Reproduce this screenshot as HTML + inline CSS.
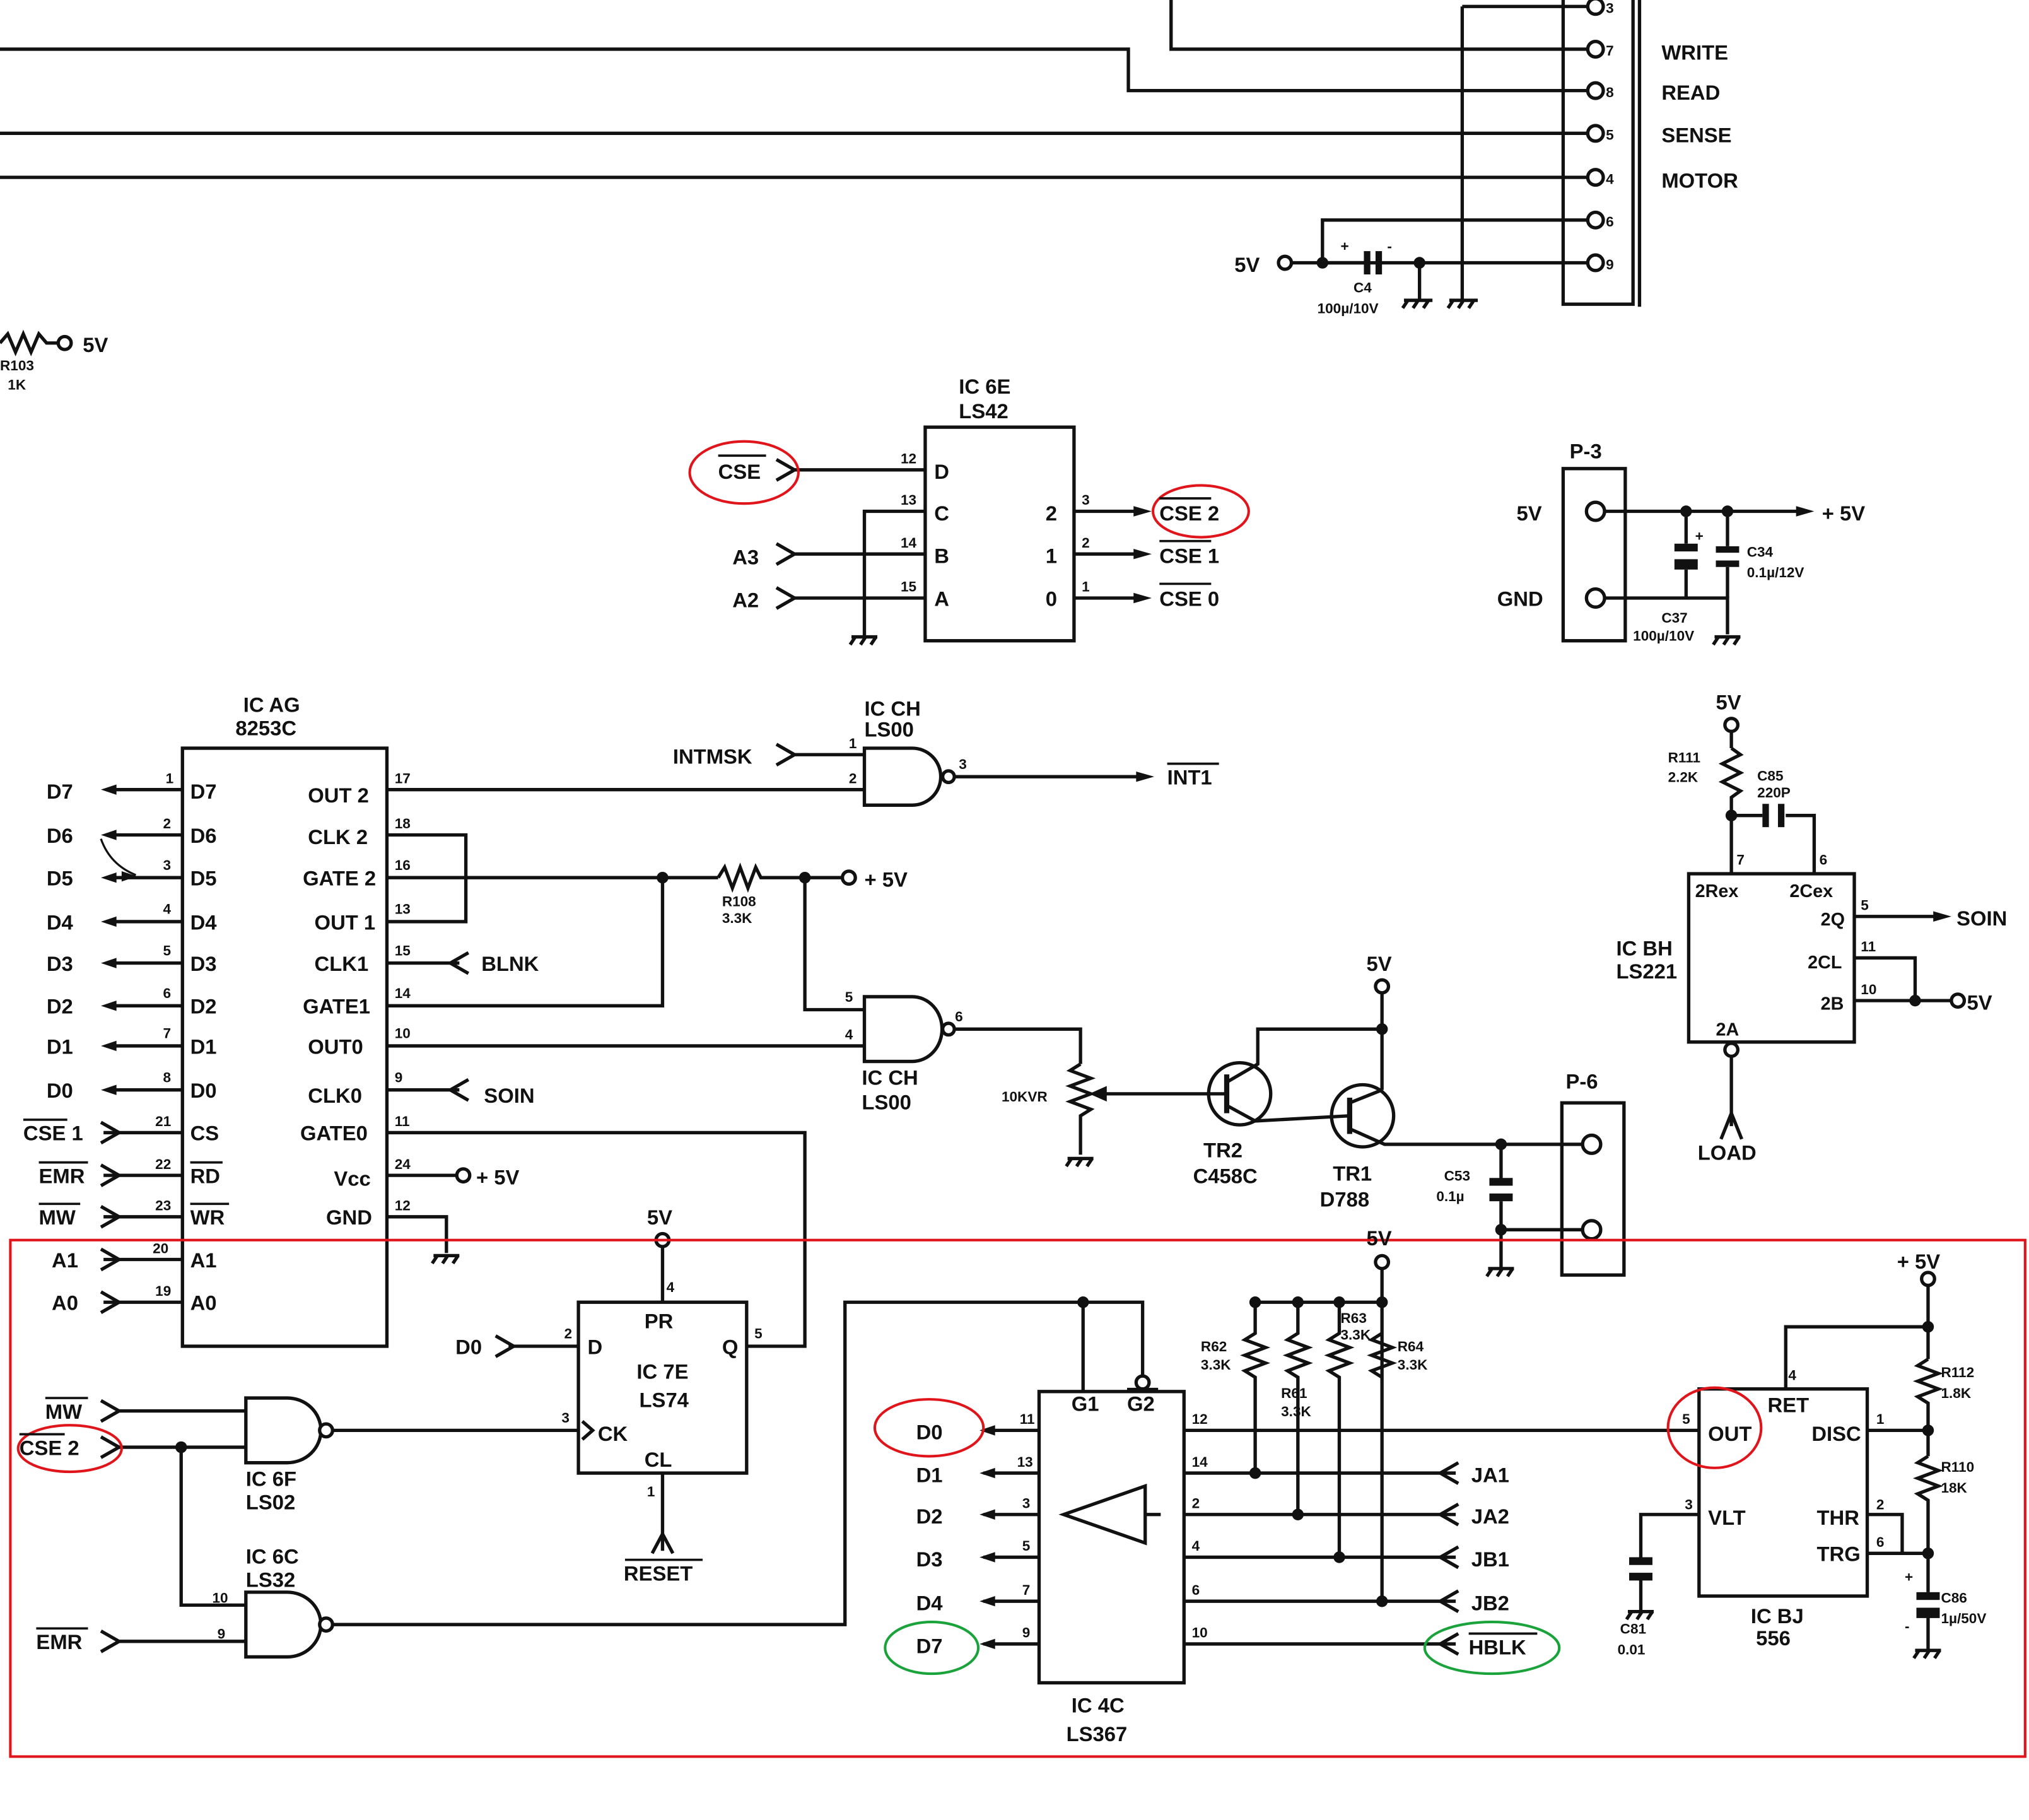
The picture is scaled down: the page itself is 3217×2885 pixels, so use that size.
<!DOCTYPE html>
<html><head><meta charset="utf-8"><style>
html,body{margin:0;padding:0;background:#fff;}
svg{display:block}
text{font-family:"Liberation Sans",sans-serif;font-weight:bold;fill:#111}
</style></head><body>
<svg width="3217" height="2885" viewBox="0 0 1568 1406" preserveAspectRatio="none" xmlns="http://www.w3.org/2000/svg">
<g stroke="#111" stroke-width="2.6" fill="none">
<polyline points="0,38 872,38 872,70 1228,70"/>
<polyline points="905,0 905,38 1228,38"/>
<line x1="0" y1="103" x2="1228" y2="103"/>
<line x1="0" y1="137" x2="1228" y2="137"/>
<line x1="1130" y1="5" x2="1130" y2="232"/>
<line x1="1130" y1="5" x2="1228" y2="5"/>
<rect x="1208" y="-5" width="54" height="240"/>
<line x1="1267" y1="-5" x2="1267" y2="237"/>
<polyline points="998,203 1228,203"/>
<polyline points="1022,203 1022,170 1228,170"/>
<line x1="1097" y1="203" x2="1097" y2="232"/>
<polyline points="0,265 6,258 12,272 18,258 24,272 30,258 36,265 45,265"/>
<rect x="715" y="330" width="115" height="165"/>
<line x1="612" y1="363" x2="715" y2="363"/>
<polyline points="668,492 668,395 715,395"/>
<line x1="612" y1="428" x2="715" y2="428"/>
<line x1="612" y1="462" x2="715" y2="462"/>
<line x1="830" y1="395" x2="885" y2="395"/>
<line x1="830" y1="428" x2="885" y2="428"/>
<line x1="830" y1="462" x2="885" y2="462"/>
<rect x="1208" y="362" width="48" height="133"/>
<line x1="1240" y1="395" x2="1395" y2="395"/>
<polyline points="1240,462 1335,462 1335,490"/>
<line x1="1303" y1="395" x2="1303" y2="420"/><line x1="1303" y1="440" x2="1303" y2="462"/>
<line x1="1335" y1="395" x2="1335" y2="422"/><line x1="1335" y1="438" x2="1335" y2="462"/>
<rect x="141" y="578" width="158" height="462"/>
<line x1="82" y1="610" x2="141" y2="610"/><line x1="82" y1="645" x2="141" y2="645"/>
<line x1="82" y1="678" x2="141" y2="678"/><line x1="82" y1="712" x2="141" y2="712"/>
<line x1="82" y1="744" x2="141" y2="744"/><line x1="82" y1="777" x2="141" y2="777"/>
<line x1="82" y1="808" x2="141" y2="808"/><line x1="82" y1="842" x2="141" y2="842"/>
<line x1="80" y1="875" x2="141" y2="875"/><line x1="80" y1="908" x2="141" y2="908"/>
<line x1="80" y1="940" x2="141" y2="940"/><line x1="80" y1="973" x2="141" y2="973"/>
<line x1="80" y1="1006" x2="141" y2="1006"/>
<path d="M78,648 Q85,668 105,676" stroke-width="1.6"/>
<line x1="299" y1="610" x2="668" y2="610"/>
<polyline points="299,645 360,645 360,712 299,712"/>
<line x1="299" y1="678" x2="555" y2="678"/>
<polyline points="555,678 560,670 566,686 572,670 578,686 584,670 588,678 650,678"/>
<polyline points="512,678 512,777 299,777"/>
<polyline points="622,678 622,780 668,780"/>
<line x1="299" y1="808" x2="668" y2="808"/>
<line x1="299" y1="744" x2="355" y2="744"/>
<line x1="299" y1="842" x2="355" y2="842"/>
<polyline points="299,875 622,875 622,1040 577,1040"/>
<line x1="299" y1="908" x2="354" y2="908"/>
<polyline points="299,940 345,940 345,968"/>
<path d="M668,578 H705 A22,22 0 0 1 705,622 H668 Z"/>
<line x1="612" y1="583" x2="668" y2="583"/>
<line x1="737" y1="600" x2="885" y2="600"/>
<path d="M668,770 H705 A23,25 0 0 1 705,820 H668 Z"/>
<polyline points="737,795 835,795 835,822"/>
<polyline points="835,822 827,827 843,833 827,839 843,845 827,851 843,857 835,862 835,892"/>
<line x1="845" y1="845" x2="935" y2="845"/>
<path d="M845,845 l9,-4 v8 z" fill="#111"/>
<circle cx="958" cy="845" r="24"/>
<line x1="948" y1="830" x2="948" y2="860" stroke-width="4"/>
<line x1="935" y1="845" x2="948" y2="845"/>
<polyline points="948,836 972,822 972,795 1068,795"/>
<polyline points="948,854 970,866"/>
<line x1="1068" y1="768" x2="1068" y2="842"/>
<circle cx="1053" cy="862" r="24"/>
<line x1="1043" y1="848" x2="1043" y2="876" stroke-width="4"/>
<polyline points="970,866 1043,862"/>
<polyline points="1043,852 1068,842"/>
<polyline points="1043,872 1070,884 1222,884"/>
<line x1="1160" y1="884" x2="1160" y2="912"/>
<line x1="1160" y1="928" x2="1160" y2="980"/>
<line x1="1160" y1="950" x2="1222" y2="950"/>
<rect x="1207" y="852" width="48" height="133"/>
<rect x="1305" y="675" width="128" height="130"/>
<line x1="1338" y1="566" x2="1338" y2="578"/>
<polyline points="1338,578 1345,583 1331,590 1345,597 1331,604 1345,611 1338,616 1338,675"/>
<line x1="1338" y1="630" x2="1362" y2="630"/>
<polyline points="1380,630 1402,630 1402,675"/>
<line x1="1433" y1="708" x2="1500" y2="708"/>
<polyline points="1433,740 1480,740 1480,773"/>
<line x1="1433" y1="773" x2="1508" y2="773"/>
<line x1="1338" y1="805" x2="1338" y2="870"/>
<polyline points="1330,880 1338,860 1346,880"/>
<rect x="447" y="1006" width="130" height="132"/>
<line x1="512" y1="962" x2="512" y2="1006"/>
<line x1="393" y1="1040" x2="447" y2="1040"/>
<line x1="252" y1="1105" x2="447" y2="1105"/>
<polyline points="450,1098 458,1105 450,1112"/>
<line x1="512" y1="1138" x2="512" y2="1198"/>
<polyline points="504,1200 512,1185 520,1200"/>
<path d="M190,1080 H222 A26,25 0 0 1 222,1130 H190 Z"/>
<line x1="90" y1="1090" x2="190" y2="1090"/>
<line x1="90" y1="1118" x2="190" y2="1118"/>
<polyline points="140,1118 140,1240 190,1240"/>
<path d="M190,1230 H222 A26,25 0 0 1 222,1280 H190 Z"/>
<line x1="90" y1="1268" x2="190" y2="1268"/>
<polyline points="258,1255 653,1255 653,1006 883,1006 883,1062"/>
<line x1="837" y1="1006" x2="837" y2="1075"/>
<rect x="803" y="1075" width="112" height="225"/>
<polygon points="822,1170 885,1148 885,1192"/>
<line x1="885" y1="1170" x2="897" y2="1170"/>
<line x1="760" y1="1105" x2="803" y2="1105"/><line x1="760" y1="1138" x2="803" y2="1138"/>
<line x1="760" y1="1170" x2="803" y2="1170"/><line x1="760" y1="1203" x2="803" y2="1203"/>
<line x1="760" y1="1237" x2="803" y2="1237"/><line x1="760" y1="1270" x2="803" y2="1270"/>
<line x1="915" y1="1105" x2="1313" y2="1105"/>
<line x1="915" y1="1138" x2="1125" y2="1138"/><line x1="915" y1="1170" x2="1125" y2="1170"/>
<line x1="915" y1="1203" x2="1125" y2="1203"/><line x1="915" y1="1237" x2="1125" y2="1237"/>
<line x1="915" y1="1270" x2="1125" y2="1270"/>
<line x1="970" y1="1006" x2="1068" y2="1006"/>
<line x1="1068" y1="980" x2="1068" y2="1237"/>
<polyline points="970,1006 970,1030 962,1035 978,1041 962,1047 978,1053 962,1059 970,1064 970,1138"/>
<polyline points="1003,1006 1003,1030 995,1035 1011,1041 995,1047 1011,1053 995,1059 1003,1064 1003,1170"/>
<polyline points="1035,1006 1035,1030 1027,1035 1043,1041 1027,1047 1043,1053 1027,1059 1035,1064 1035,1203"/>
<polyline points="1068,1030 1060,1035 1076,1041 1060,1047 1076,1053 1060,1059 1068,1064"/>
<rect x="1313" y="1073" width="130" height="160"/>
<line x1="1490" y1="993" x2="1490" y2="1050"/>
<polyline points="1490,1025 1380,1025 1380,1073"/>
<polyline points="1490,1050 1482,1055 1498,1061 1482,1067 1498,1073 1482,1079 1490,1084 1490,1125"/>
<polyline points="1490,1125 1482,1130 1498,1136 1482,1142 1498,1148 1482,1154 1490,1159 1490,1230"/>
<line x1="1443" y1="1105" x2="1490" y2="1105"/>
<polyline points="1443,1170 1470,1170 1470,1200"/>
<line x1="1443" y1="1200" x2="1490" y2="1200"/>
<line x1="1490" y1="1248" x2="1490" y2="1275"/>
<polyline points="1313,1170 1268,1170 1268,1205"/>
<line x1="1268" y1="1220" x2="1268" y2="1245"/>
</g>
<g fill="#111">
<rect x="1054" y="194" width="5" height="18"/><rect x="1063" y="194" width="5" height="18"/>
<line x1="1022" y1="203" x2="1054" y2="203" stroke="#111" stroke-width="2.6"/>
<rect x="1294" y="420" width="18" height="6"/><rect x="1294" y="432" width="18" height="8"/>
<rect x="1326" y="422" width="18" height="5"/><rect x="1326" y="433" width="18" height="5"/>
<rect x="1362" y="621" width="5" height="18"/><rect x="1374" y="621" width="5" height="18"/>
<rect x="1151" y="910" width="18" height="6"/><rect x="1151" y="922" width="18" height="6"/>
<rect x="1259" y="1203" width="18" height="6"/><rect x="1259" y="1215" width="18" height="6"/>
<rect x="1481" y="1230" width="18" height="6"/><rect x="1481" y="1242" width="18" height="8"/>
<circle cx="1022" cy="203" r="4.5"/><circle cx="1097" cy="203" r="4.5"/>
<circle cx="1303" cy="395" r="4.5"/><circle cx="1335" cy="395" r="4.5"/>
<circle cx="512" cy="678" r="4.5"/><circle cx="622" cy="678" r="4.5"/>
<circle cx="1068" cy="795" r="4.5"/><circle cx="1160" cy="884" r="4.5"/><circle cx="1160" cy="950" r="4.5"/>
<circle cx="1338" cy="630" r="4.5"/><circle cx="1480" cy="773" r="4.5"/>
<circle cx="140" cy="1118" r="4.5"/><circle cx="837" cy="1006" r="4.5"/>
<circle cx="970" cy="1006" r="4.5"/><circle cx="1003" cy="1006" r="4.5"/><circle cx="1035" cy="1006" r="4.5"/><circle cx="1068" cy="1006" r="4.5"/>
<circle cx="970" cy="1138" r="4.5"/><circle cx="1003" cy="1170" r="4.5"/><circle cx="1035" cy="1203" r="4.5"/><circle cx="1068" cy="1237" r="4.5"/>
<circle cx="1490" cy="1025" r="4.5"/><circle cx="1490" cy="1105" r="4.5"/><circle cx="1490" cy="1200" r="4.5"/>
<path d="M78,610 l12,-4 v8z"/><path d="M78,645 l12,-4 v8z"/><path d="M78,678 l12,-4 v8z"/><path d="M78,712 l12,-4 v8z"/>
<path d="M78,744 l12,-4 v8z"/><path d="M78,777 l12,-4 v8z"/><path d="M78,808 l12,-4 v8z"/><path d="M78,842 l12,-4 v8z"/>
<path d="M106,677 l-12,-4 v8z"/>
<path d="M757,1105 l12,-4 v8z"/><path d="M757,1138 l12,-4 v8z"/><path d="M757,1170 l12,-4 v8z"/><path d="M757,1203 l12,-4 v8z"/><path d="M757,1237 l12,-4 v8z"/><path d="M757,1270 l12,-4 v8z"/>
<path d="M890,395 l-14,-4 v8z"/><path d="M890,428 l-14,-4 v8z"/><path d="M890,462 l-14,-4 v8z"/>
<path d="M892,600 l-14,-4 v8z"/><path d="M1402,395 l-14,-4 v8z"/><path d="M1508,708 l-14,-4 v8z"/>
</g>
<g stroke="#111" stroke-width="2.6" fill="none">
<polyline points="600,355 614,363 600,371"/><polyline points="600,420 614,428 600,436"/><polyline points="600,454 614,462 600,470"/>
<polyline points="600,575 614,583 600,591"/>
<polyline points="78,867 92,875 78,883"/><polyline points="78,900 92,908 78,916"/><polyline points="78,932 92,940 78,948"/>
<polyline points="78,965 92,973 78,981"/><polyline points="78,998 92,1006 78,1014"/>
<polyline points="78,1082 92,1090 78,1098"/><polyline points="78,1110 92,1118 78,1126"/><polyline points="78,1260 92,1268 78,1276"/>
<polyline points="383,1032 397,1040 383,1048"/>
<polyline points="362,736 348,744 362,752"/><polyline points="362,834 348,842 362,850"/>
<polyline points="1127,1130 1113,1138 1127,1146"/><polyline points="1127,1162 1113,1170 1127,1178"/><polyline points="1127,1195 1113,1203 1127,1211"/>
<polyline points="1127,1229 1113,1237 1127,1245"/><polyline points="1127,1262 1113,1270 1127,1278"/>
<circle cx="1233" cy="5" r="6" fill="#fff"/><circle cx="1233" cy="38" r="6" fill="#fff"/><circle cx="1233" cy="70" r="6" fill="#fff"/>
<circle cx="1233" cy="103" r="6" fill="#fff"/><circle cx="1233" cy="137" r="6" fill="#fff"/><circle cx="1233" cy="170" r="6" fill="#fff"/><circle cx="1233" cy="203" r="6" fill="#fff"/>
<circle cx="993" cy="203" r="5" fill="#fff"/><circle cx="50" cy="265" r="5" fill="#fff"/>
<circle cx="1233" cy="395" r="7" fill="#fff"/><circle cx="1233" cy="462" r="7" fill="#fff"/>
<circle cx="656" cy="678" r="5" fill="#fff"/><circle cx="358" cy="908" r="5" fill="#fff"/>
<circle cx="733" cy="600" r="4.5" fill="#fff"/><circle cx="733" cy="795" r="4.5" fill="#fff"/>
<circle cx="252" cy="1105" r="5" fill="#fff"/><circle cx="252" cy="1255" r="5" fill="#fff"/>
<circle cx="1068" cy="762" r="5" fill="#fff"/><circle cx="1230" cy="884" r="7" fill="#fff"/><circle cx="1230" cy="950" r="7" fill="#fff"/>
<circle cx="1338" cy="560" r="5" fill="#fff"/><circle cx="1513" cy="773" r="5" fill="#fff"/><circle cx="1338" cy="811" r="5" fill="#fff"/>
<circle cx="512" cy="958" r="5" fill="#fff"/><circle cx="1068" cy="975" r="5" fill="#fff"/><circle cx="1490" cy="988" r="5" fill="#fff"/>
<circle cx="883" cy="1068" r="5" fill="#fff"/>
<path d="M1085,232 h22 M1088,232 l-4,6 M1096,232 l-4,6 M1104,232 l-4,6"/>
<path d="M1120,232 h22 M1123,232 l-4,6 M1131,232 l-4,6 M1139,232 l-4,6"/>
<path d="M658,492 h20 M661,492 l-4,6 M669,492 l-4,6 M677,492 l-4,6"/>
<path d="M1325,492 h20 M1328,492 l-4,6 M1336,492 l-4,6 M1344,492 l-4,6"/>
<path d="M335,970 h20 M338,970 l-4,6 M346,970 l-4,6 M354,970 l-4,6"/>
<path d="M825,895 h20 M828,895 l-4,6 M836,895 l-4,6 M844,895 l-4,6"/>
<path d="M1150,980 h20 M1153,980 l-4,6 M1161,980 l-4,6 M1169,980 l-4,6"/>
<path d="M1258,1245 h20 M1261,1245 l-4,6 M1269,1245 l-4,6 M1277,1245 l-4,6"/>
<path d="M1480,1275 h20 M1483,1275 l-4,6 M1491,1275 l-4,6 M1499,1275 l-4,6"/>
</g>
<rect x="8" y="958" width="1557" height="399" fill="none" stroke="#e0151b" stroke-width="2"/>
<g fill="none" stroke-width="2">
<ellipse cx="575" cy="365" rx="42" ry="24" stroke="#e0151b"/>
<ellipse cx="928" cy="395" rx="37" ry="20" stroke="#e0151b"/>
<ellipse cx="54" cy="1119" rx="40" ry="18" stroke="#e0151b"/>
<ellipse cx="718" cy="1103" rx="42" ry="22" stroke="#e0151b"/>
<ellipse cx="1325" cy="1103" rx="36" ry="31" stroke="#e0151b"/>
<ellipse cx="720" cy="1273" rx="36" ry="20" stroke="#1aa33a"/>
<ellipse cx="1153" cy="1273" rx="52" ry="20" stroke="#1aa33a"/>
</g>
<g stroke="#111" stroke-width="1.8">
<line x1="555" y1="352" x2="592" y2="352"/><line x1="896" y1="385" x2="936" y2="385"/>
<line x1="896" y1="418" x2="936" y2="418"/><line x1="896" y1="451" x2="936" y2="451"/>
<line x1="902" y1="590" x2="942" y2="590"/>
<line x1="18" y1="865" x2="52" y2="865"/><line x1="30" y1="898" x2="68" y2="898"/><line x1="30" y1="930" x2="62" y2="930"/>
<line x1="147" y1="898" x2="172" y2="898"/><line x1="147" y1="930" x2="177" y2="930"/>
<line x1="35" y1="1080" x2="68" y2="1080"/><line x1="15" y1="1108" x2="50" y2="1108"/><line x1="28" y1="1258" x2="68" y2="1258"/>
<line x1="483" y1="1205" x2="543" y2="1205"/><line x1="1135" y1="1262" x2="1188" y2="1262"/>
<line x1="871" y1="1073" x2="895" y2="1073"/>
</g>
<g font-size="16">
<text x="1284" y="46">WRITE</text><text x="1284" y="77">READ</text><text x="1284" y="110">SENSE</text><text x="1284" y="145">MOTOR</text>
<text x="954" y="210">5V</text>
<text x="64" y="272">5V</text>
<text x="741" y="304">IC 6E</text><text x="741" y="323">LS42</text>
<text x="555" y="370">CSE</text><text x="896" y="402">CSE 2</text><text x="896" y="435">CSE 1</text><text x="896" y="468">CSE 0</text>
<text x="566" y="436">A3</text><text x="566" y="469">A2</text>
<text x="722" y="370">D</text><text x="722" y="402">C</text><text x="722" y="435">B</text><text x="722" y="468">A</text>
<text x="808" y="402">2</text><text x="808" y="435">1</text><text x="808" y="468">0</text>
<text x="1213" y="354">P-3</text><text x="1172" y="402">5V</text><text x="1157" y="468">GND</text><text x="1408" y="402">+ 5V</text>
<text x="188" y="550">IC AG</text><text x="182" y="568">8253C</text>
<text x="668" y="553">IC CH</text><text x="668" y="569">LS00</text>
<text x="520" y="590">INTMSK</text><text x="902" y="606">INT1</text>
<text x="1326" y="548">5V</text>
<text x="1512" y="715">SOIN</text><text x="1520" y="780">5V</text><text x="1312" y="896">LOAD</text>
<text x="1249" y="738">IC BH</text><text x="1249" y="756">LS221</text>
<text x="1310" y="693" font-size="14">2Rex</text><text x="1383" y="693" font-size="14">2Cex</text>
<text x="1407" y="715" font-size="14">2Q</text><text x="1397" y="748" font-size="14">2CL</text><text x="1407" y="780" font-size="14">2B</text><text x="1326" y="800" font-size="14">2A</text>
<text x="36" y="617">D7</text><text x="36" y="651">D6</text><text x="36" y="684">D5</text><text x="36" y="718">D4</text>
<text x="36" y="750">D3</text><text x="36" y="783">D2</text><text x="36" y="814">D1</text><text x="36" y="848">D0</text>
<text x="18" y="881">CSE 1</text><text x="30" y="914">EMR</text><text x="30" y="946">MW</text><text x="40" y="979">A1</text><text x="40" y="1012">A0</text>
<text x="147" y="617">D7</text><text x="147" y="651">D6</text><text x="147" y="684">D5</text><text x="147" y="718">D4</text>
<text x="147" y="750">D3</text><text x="147" y="783">D2</text><text x="147" y="814">D1</text><text x="147" y="848">D0</text>
<text x="147" y="881">CS</text><text x="147" y="914">RD</text><text x="147" y="946">WR</text><text x="147" y="979">A1</text><text x="147" y="1012">A0</text>
<text x="238" y="620">OUT 2</text><text x="238" y="652">CLK 2</text><text x="234" y="684">GATE 2</text><text x="243" y="718">OUT 1</text>
<text x="243" y="750">CLK1</text><text x="234" y="783">GATE1</text><text x="238" y="814">OUT0</text><text x="238" y="852">CLK0</text>
<text x="232" y="881">GATE0</text><text x="258" y="916">Vcc</text><text x="252" y="946">GND</text>
<text x="372" y="750">BLNK</text><text x="374" y="852">SOIN</text><text x="368" y="915">+ 5V</text><text x="668" y="685">+ 5V</text>
<text x="666" y="838">IC CH</text><text x="666" y="857">LS00</text>
<text x="1056" y="750">5V</text>
<text x="930" y="894">TR2</text><text x="922" y="914">C458C</text>
<text x="1030" y="912">TR1</text><text x="1020" y="932">D788</text>
<text x="1210" y="841">P-6</text>
<text x="500" y="946">5V</text>
<text x="498" y="1026">PR</text><text x="454" y="1046">D</text><text x="558" y="1046">Q</text>
<text x="492" y="1065">IC 7E</text><text x="494" y="1087">LS74</text><text x="462" y="1113">CK</text><text x="498" y="1133">CL</text>
<text x="482" y="1221">RESET</text><text x="352" y="1046">D0</text>
<text x="35" y="1096">MW</text><text x="15" y="1124">CSE 2</text><text x="28" y="1274">EMR</text>
<text x="190" y="1148">IC 6F</text><text x="190" y="1166">LS02</text>
<text x="190" y="1208">IC 6C</text><text x="190" y="1226">LS32</text>
<text x="1056" y="962">5V</text><text x="1466" y="980">+ 5V</text>
<text x="708" y="1112">D0</text><text x="708" y="1145">D1</text><text x="708" y="1177">D2</text><text x="708" y="1210">D3</text><text x="708" y="1244">D4</text><text x="708" y="1277">D7</text>
<text x="828" y="1090">G1</text><text x="871" y="1090">G2</text>
<text x="1137" y="1145">JA1</text><text x="1137" y="1177">JA2</text><text x="1137" y="1210">JB1</text><text x="1137" y="1244">JB2</text><text x="1135" y="1278">HBLK</text>
<text x="828" y="1323">IC 4C</text><text x="824" y="1345">LS367</text>
<text x="1366" y="1091">RET</text><text x="1320" y="1113">OUT</text><text x="1400" y="1113">DISC</text>
<text x="1320" y="1178">VLT</text><text x="1404" y="1178">THR</text><text x="1404" y="1206">TRG</text>
<text x="1353" y="1254">IC BJ</text><text x="1357" y="1271">556</text>
</g>
<g font-size="11">
<text x="1241" y="10">3</text><text x="1241" y="43">7</text><text x="1241" y="75">8</text><text x="1241" y="108">5</text><text x="1241" y="142">4</text><text x="1241" y="175">6</text><text x="1241" y="208">9</text>
<text x="1036" y="194">+</text><text x="1072" y="194">-</text>
<text x="1046" y="226">C4</text><text x="1018" y="242">100µ/10V</text>
<text x="0" y="286">R103</text><text x="6" y="301">1K</text>
<text x="696" y="358">12</text><text x="696" y="390">13</text><text x="696" y="423">14</text><text x="696" y="457">15</text>
<text x="836" y="390">3</text><text x="836" y="423">2</text><text x="836" y="457">1</text>
<text x="1350" y="430">C34</text><text x="1350" y="446">0.1µ/12V</text><text x="1284" y="481">C37</text><text x="1262" y="495">100µ/10V</text>
<text x="1310" y="418">+</text>
<text x="1289" y="589">R111</text><text x="1289" y="604">2.2K</text><text x="1358" y="603">C85</text><text x="1358" y="616">220P</text>
<text x="1342" y="668">7</text><text x="1406" y="668">6</text><text x="1438" y="703">5</text><text x="1438" y="735">11</text><text x="1438" y="768">10</text>
<text x="128" y="605">1</text><text x="126" y="640">2</text><text x="126" y="672">3</text><text x="126" y="706">4</text><text x="126" y="738">5</text><text x="126" y="771">6</text><text x="126" y="802">7</text><text x="126" y="836">8</text>
<text x="120" y="870">21</text><text x="120" y="903">22</text><text x="120" y="935">23</text><text x="118" y="968">20</text><text x="120" y="1001">19</text>
<text x="305" y="605">17</text><text x="305" y="640">18</text><text x="305" y="672">16</text><text x="305" y="706">13</text><text x="305" y="738">15</text><text x="305" y="771">14</text><text x="305" y="802">10</text><text x="305" y="836">9</text><text x="305" y="870">11</text><text x="305" y="903">24</text><text x="305" y="935">12</text>
<text x="656" y="578">1</text><text x="656" y="605">2</text><text x="741" y="594">3</text>
<text x="558" y="700">R108</text><text x="558" y="713">3.3K</text>
<text x="653" y="774">5</text><text x="653" y="803">4</text><text x="738" y="789">6</text>
<text x="774" y="851">10KVR</text>
<text x="1116" y="912">C53</text><text x="1110" y="928">0.1µ</text>
<text x="515" y="998">4</text><text x="583" y="1034">5</text><text x="436" y="1034">2</text><text x="434" y="1099">3</text><text x="500" y="1156">1</text>
<text x="164" y="1238">10</text><text x="168" y="1266">9</text>
<text x="788" y="1100">11</text><text x="786" y="1133">13</text><text x="790" y="1165">3</text><text x="790" y="1198">5</text><text x="790" y="1232">7</text><text x="790" y="1265">9</text>
<text x="921" y="1100">12</text><text x="921" y="1133">14</text><text x="921" y="1165">2</text><text x="921" y="1198">4</text><text x="921" y="1232">6</text><text x="921" y="1265">10</text>
<text x="928" y="1044">R62</text><text x="928" y="1058">3.3K</text>
<text x="990" y="1080">R61</text><text x="990" y="1094">3.3K</text>
<text x="1036" y="1022">R63</text><text x="1036" y="1035">3.3K</text>
<text x="1080" y="1044">R64</text><text x="1080" y="1058">3.3K</text>
<text x="1382" y="1066">4</text><text x="1300" y="1100">5</text><text x="1450" y="1100">1</text><text x="1302" y="1166">3</text><text x="1450" y="1166">2</text><text x="1450" y="1195">6</text>
<text x="1500" y="1064">R112</text><text x="1500" y="1080">1.8K</text><text x="1500" y="1137">R110</text><text x="1500" y="1153">18K</text>
<text x="1500" y="1238">C86</text><text x="1500" y="1254">1µ/50V</text><text x="1472" y="1222">+</text><text x="1472" y="1260">-</text>
<text x="1252" y="1262">C81</text><text x="1250" y="1278">0.01</text>
</g>
</svg>
</body></html>
